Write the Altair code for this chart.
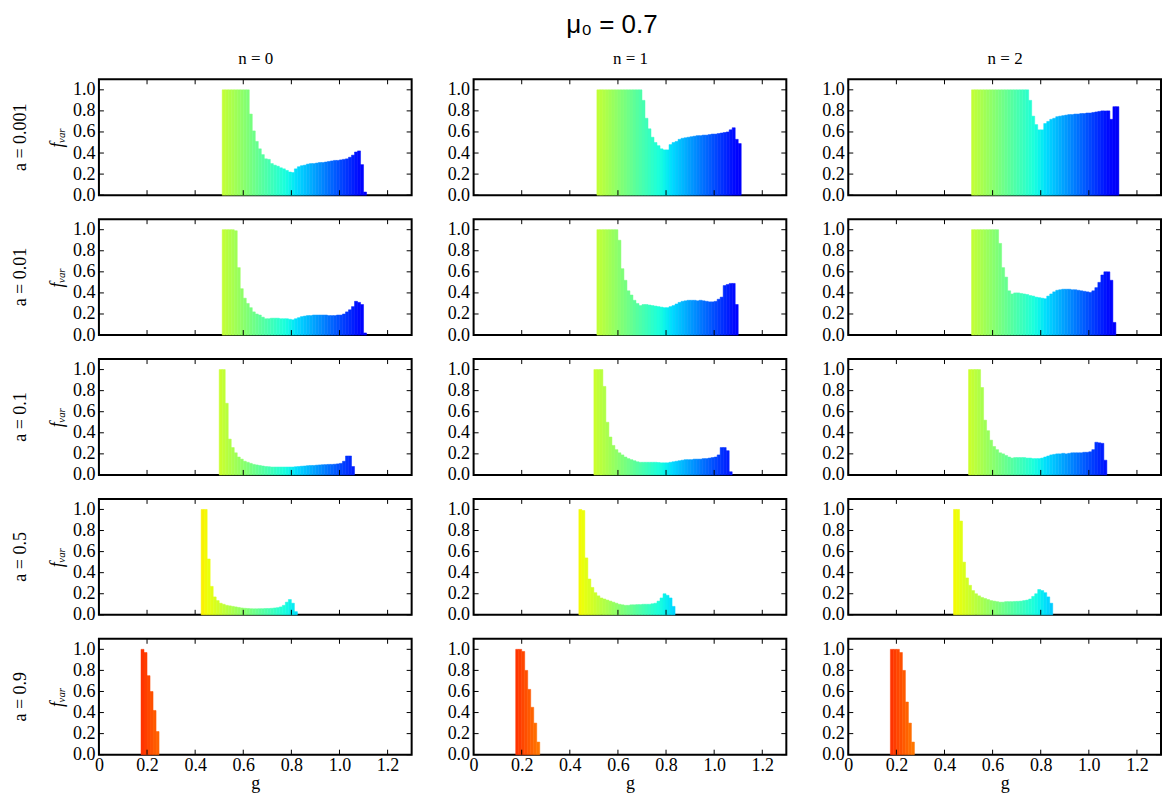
import altair as alt
import numpy as np
import pandas as pd

BIN = 0.0125
A_VALUES = ["0.001", "0.01", "0.1", "0.5", "0.9"]
N_VALUES = ["0", "1", "2"]
X_TICKS = [0, 0.2, 0.4, 0.6, 0.8, 1.0, 1.2]
Y_TICKS = [0.0, 0.2, 0.4, 0.6, 0.8, 1.0]
TITLE = "μ₀ = 0.7"
Y_TITLE = "fᵥₐᵣ"

# ---- a = 0.001 ----
start_a0001_n0 = 0.5125
f_a0001_n0 = [1, 1, 1, 1, 1, 1, 1, 1, 1,
              0.77, 0.61, 0.51, 0.44, 0.385, 0.345, 0.34, 0.30, 0.285, 0.275, 0.26, 0.25, 0.235, 0.22, 0.215,
              0.25, 0.27, 0.28, 0.285, 0.295, 0.30, 0.30, 0.305, 0.31, 0.31, 0.315, 0.32, 0.325, 0.33, 0.33,
              0.335, 0.34, 0.345, 0.36, 0.38, 0.41, 0.42, 0.29, 0.03]
start_a0001_n1 = 0.5125
f_a0001_n1 = [1] * 15 + [
    0.9, 0.73, 0.63, 0.55, 0.5, 0.47, 0.44, 0.43, 0.43, 0.48, 0.5, 0.51, 0.53, 0.54, 0.545, 0.55, 0.555,
    0.56, 0.565, 0.565, 0.57, 0.57, 0.575, 0.58, 0.58, 0.585, 0.59, 0.595, 0.6, 0.62, 0.64, 0.53, 0.49]
start_a0001_n2 = 0.5125
f_a0001_n2 = [1] * 19 + [
    0.9, 0.75, 0.67, 0.62, 0.62, 0.68, 0.70, 0.72, 0.73, 0.745, 0.75, 0.755, 0.76, 0.765, 0.765, 0.77,
    0.77, 0.775, 0.775, 0.78, 0.78, 0.785, 0.79, 0.795, 0.8, 0.8, 0.8, 0.72, 0.84, 0.84]

# ---- a = 0.01 ----
start_a001_n0 = 0.5125
f_a001_n0 = [1, 1, 1, 1, 0.99,
             0.64, 0.44, 0.35, 0.3, 0.26, 0.22, 0.2, 0.19, 0.17, 0.155, 0.155, 0.16, 0.16, 0.16, 0.155, 0.155,
             0.155, 0.15,
             0.145, 0.155, 0.165, 0.175, 0.18, 0.185, 0.185, 0.19, 0.19, 0.19, 0.19, 0.19, 0.185, 0.185, 0.185,
             0.19, 0.19, 0.2, 0.22, 0.24, 0.27, 0.32, 0.31, 0.29, 0.02]
start_a001_n1 = 0.5125
f_a001_n1 = [1] * 7 + [
    0.9, 0.63, 0.52, 0.42, 0.38, 0.33, 0.3, 0.28, 0.29, 0.29, 0.285, 0.28, 0.275, 0.27, 0.265, 0.26,
    0.26, 0.27, 0.28, 0.295, 0.31, 0.32, 0.325, 0.33, 0.33, 0.33, 0.325, 0.33, 0.325, 0.32, 0.315, 0.315,
    0.32, 0.34, 0.36, 0.47, 0.48, 0.49, 0.49, 0.29]
start_a001_n2 = 0.5125
f_a001_n2 = [1] * 9 + [
    0.87, 0.64, 0.55, 0.42, 0.39, 0.4, 0.4, 0.395, 0.39, 0.385, 0.375, 0.37, 0.36, 0.355,
    0.35, 0.345, 0.37, 0.39, 0.41, 0.425, 0.43, 0.435, 0.435, 0.435, 0.43, 0.43, 0.425, 0.42, 0.415, 0.41,
    0.405, 0.42, 0.45, 0.5, 0.57, 0.6, 0.6, 0.52, 0.12]

# ---- a = 0.1 ----
start_a01_n0 = 0.5
f_a01_n0 = [1, 1, 0.68, 0.34, 0.26, 0.21, 0.17, 0.15, 0.13, 0.12, 0.11, 0.1, 0.095, 0.09, 0.085, 0.08,
            0.078, 0.075, 0.075, 0.075, 0.075, 0.075, 0.075, 0.075,
            0.075, 0.078, 0.08, 0.083, 0.085, 0.088, 0.09, 0.09, 0.093, 0.095, 0.097, 0.098, 0.1, 0.1, 0.102,
            0.105, 0.11, 0.13, 0.18, 0.18, 0.08]
start_a01_n1 = 0.5
f_a01_n1 = [1, 1, 1, 0.84, 0.5, 0.36, 0.28, 0.24, 0.21, 0.19, 0.17, 0.155, 0.145, 0.135, 0.125, 0.12,
            0.12, 0.12, 0.12, 0.12, 0.12, 0.118, 0.115, 0.115,
            0.115, 0.12, 0.125, 0.13, 0.135, 0.14, 0.145, 0.145, 0.145, 0.15, 0.15, 0.15, 0.155, 0.155, 0.16,
            0.165, 0.17, 0.19, 0.26, 0.26, 0.23, 0.03]
start_a01_n2 = 0.5
f_a01_n2 = [1, 1, 1, 1, 0.83, 0.52, 0.42, 0.33, 0.27, 0.24, 0.21, 0.2, 0.185, 0.17, 0.16, 0.165, 0.165,
            0.165, 0.165, 0.16, 0.16, 0.155, 0.155, 0.155,
            0.16, 0.17, 0.18, 0.19, 0.195, 0.2, 0.2, 0.205, 0.2, 0.205, 0.21, 0.21, 0.21, 0.21, 0.215, 0.215,
            0.22, 0.24, 0.31, 0.305, 0.3, 0.14]

# ---- a = 0.5 ----
start_a05_n0 = 0.425
f_a05_n0 = [1, 1, 0.53, 0.27, 0.17, 0.135, 0.11, 0.1, 0.09, 0.085, 0.08, 0.075, 0.07, 0.065, 0.062,
            0.06, 0.058, 0.057, 0.057, 0.058, 0.058, 0.06, 0.06, 0.062, 0.065, 0.068, 0.075, 0.09, 0.12,
            0.145, 0.11, 0.03]
start_a05_n1 = 0.4375
f_a05_n1 = [1.0, 0.99, 0.54, 0.34, 0.26, 0.21, 0.18, 0.16, 0.15, 0.14, 0.13, 0.12, 0.11, 0.1, 0.095,
            0.09, 0.09, 0.095, 0.095, 0.097, 0.097, 0.1, 0.1, 0.1, 0.105, 0.11, 0.13, 0.16, 0.2, 0.185,
            0.16, 0.08]
start_a05_n2 = 0.4375
f_a05_n2 = [1, 1, 0.89, 0.5, 0.35, 0.28, 0.23, 0.2, 0.18, 0.165, 0.155, 0.145, 0.135, 0.13, 0.125,
            0.12, 0.12, 0.125, 0.125, 0.125, 0.127, 0.128, 0.13, 0.135, 0.14, 0.15, 0.175, 0.2, 0.24, 0.23,
            0.21, 0.17, 0.11]

# ---- a = 0.9 ----
start_a09_n0 = 0.175
f_a09_n0 = [1.0, 0.97, 0.75, 0.6, 0.42, 0.22]
start_a09_n1 = 0.175
f_a09_n1 = [1.0, 1.0, 0.98, 0.8, 0.62, 0.45, 0.3, 0.12]
start_a09_n2 = 0.175
f_a09_n2 = [1.0, 1.0, 1.0, 0.97, 0.8, 0.5, 0.3, 0.12]

PANELS = [
    [(start_a0001_n0, f_a0001_n0), (start_a0001_n1, f_a0001_n1), (start_a0001_n2, f_a0001_n2)],
    [(start_a001_n0, f_a001_n0), (start_a001_n1, f_a001_n1), (start_a001_n2, f_a001_n2)],
    [(start_a01_n0, f_a01_n0), (start_a01_n1, f_a01_n1), (start_a01_n2, f_a01_n2)],
    [(start_a05_n0, f_a05_n0), (start_a05_n1, f_a05_n1), (start_a05_n2, f_a05_n2)],
    [(start_a09_n0, f_a09_n0), (start_a09_n1, f_a09_n1), (start_a09_n2, f_a09_n2)],
]

# ---- jet colour map over g (reversed: small g -> red, large g -> blue) ----
G_MAX = 1.25


def jet(t):
    r = np.interp(t, [0, 0.35, 0.66, 0.89, 1], [0, 0, 1, 1, 0.5])
    g = np.interp(t, [0, 0.125, 0.375, 0.64, 0.91, 1], [0, 0, 1, 1, 0, 0])
    b = np.interp(t, [0, 0.11, 0.34, 0.65, 1], [0.5, 1, 1, 0, 0])
    return "#%02x%02x%02x" % (int(round(r * 255)), int(round(g * 255)), int(round(b * 255)))


stops = [float(s) for s in np.linspace(0, G_MAX, 51)]
cscale = alt.Scale(domain=stops, range=[jet(1 - s / G_MAX) for s in stops], interpolate="rgb")

W, H, TL = 313, 116, 5
SERIF = "Liberation Serif"
FS = 18

xscale = alt.Scale(domain=[0, 1.3], nice=False, zero=False)
yscale = alt.Scale(domain=[0, 1.1], nice=False)

xt_df = pd.DataFrame({"v": X_TICKS})
yt_df = pd.DataFrame({"v": Y_TICKS})


def panel_df(start, fvals):
    g0 = [start + i * BIN for i in range(len(fvals))]
    return pd.DataFrame({
        "g0": g0,
        "g1": [x + BIN for x in g0],
        "gm": [x + BIN / 2 for x in g0],
        "f": fvals,
        "base": [0.0] * len(fvals),
    })


def make_panel(ri, ci):
    start, fvals = PANELS[ri][ci]
    df = panel_df(start, fvals)

    if ri == 0:
        xaxis = alt.Axis(orient="top", labels=False, ticks=False, domain=False, grid=False,
                         title="n = " + N_VALUES[ci], titleFont=SERIF, titleFontSize=17,
                         titleFontWeight="normal", titlePadding=12)
    elif ri == 4:
        xaxis = alt.Axis(orient="bottom", values=X_TICKS, ticks=False, domain=False, grid=False,
                         labelExpr="datum.value == 0 ? '0' : format(datum.value, '.1f')",
                         labelFont=SERIF, labelFontSize=FS, labelPadding=2, labelFlush=False,
                         title="g", titleFont=SERIF, titleFontSize=FS, titleFontWeight="normal",
                         titlePadding=0)
    else:
        xaxis = None

    yargs = dict(orient="left", values=Y_TICKS, format=".1f", ticks=False, domain=False, grid=False,
                 labelFont=SERIF, labelFontSize=FS, labelPadding=4, labelFlush=False)
    if ci == 0:
        yaxis = alt.Axis(title=Y_TITLE, titleFont=SERIF, titleFontSize=FS, titleFontStyle="italic",
                         titleFontWeight="normal", titlePadding=6, **yargs)
    else:
        yaxis = alt.Axis(title=None, **yargs)

    bars = alt.Chart(df).mark_rect(strokeWidth=0.5).encode(
        x=alt.X("g0:Q", scale=xscale, axis=xaxis),
        x2="g1:Q",
        y=alt.Y("f:Q", scale=yscale, axis=yaxis),
        y2="base:Q",
        color=alt.Color("gm:Q", scale=cscale, legend=None),
        stroke=alt.Stroke("gm:Q", scale=cscale, legend=None),
    )
    xt = alt.Chart(xt_df)
    yt = alt.Chart(yt_df)
    tick_bottom = xt.mark_rule(color="black", strokeWidth=1).encode(
        x=alt.X("v:Q", scale=xscale, axis=xaxis), y=alt.value(H), y2=alt.value(H - TL))
    tick_top = xt.mark_rule(color="black", strokeWidth=1).encode(
        x=alt.X("v:Q", scale=xscale, axis=xaxis), y=alt.value(0), y2=alt.value(TL))
    tick_left = yt.mark_rule(color="black", strokeWidth=1).encode(
        y=alt.Y("v:Q", scale=yscale, axis=yaxis), x=alt.value(0), x2=alt.value(TL))
    tick_right = yt.mark_rule(color="black", strokeWidth=1).encode(
        y=alt.Y("v:Q", scale=yscale, axis=yaxis), x=alt.value(W), x2=alt.value(W - TL))

    props = dict(width=W, height=H)
    if ci == 0:
        props["title"] = alt.TitleParams(text="a = " + A_VALUES[ri], orient="left", anchor="middle",
                                         font=SERIF, fontSize=FS, fontWeight="normal", offset=18,
                                         color="black")
    return alt.layer(bars, tick_bottom, tick_top, tick_left, tick_right).properties(**props)


panels = [make_panel(r, c) for r in range(5) for c in range(3)]

chart = alt.concat(
    *panels, columns=3, spacing={"row": 24, "column": 62}, bounds="flush",
    title=alt.TitleParams(text=TITLE, font="Liberation Sans", fontSize=26, fontWeight="normal",
                          anchor="middle", offset=10, dx=25, color="black"),
).properties(
    padding={"left": 3, "top": 4, "right": 0, "bottom": 0},
    background="white",
).configure_view(
    stroke="black", strokeWidth=2
).configure_axis(
    labelColor="black", titleColor="black"
)

chart.save("out.html", embed_options={"renderer": "svg", "actions": False})
